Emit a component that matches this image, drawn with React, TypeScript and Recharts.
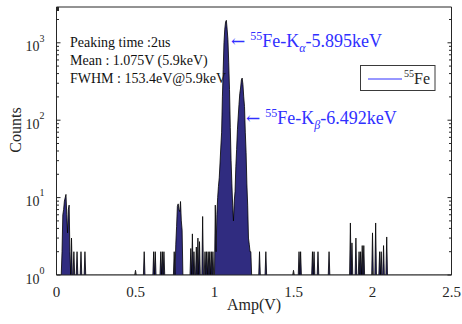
import React from "react";
import { AreaChart, Area, XAxis, YAxis } from "recharts";

const FONT = "'Liberation Serif', 'Times New Roman', serif";
const ARROW_FONT = "'DejaVu Serif', serif";
const AXIS = "#262626";
const FILL = "#302c80";
const BLUE = "#3030ff";

const BIN = 0.005;
const xTicks = [0, 0.5, 1, 1.5, 2, 2.5];
const yMajor = [1, 10, 100, 1000];
const yMinor = [2, 3, 4, 5, 6, 7, 8, 9, 20, 30, 40, 50, 60, 70, 80, 90, 200, 300, 400, 500, 600, 700, 800, 900, 2000];

// scattered non-empty bins (Amp in V)
const hitAmps = [
  0.035, 0.04, 0.045, 0.05, 0.055, 0.06, 0.065, 0.07, 0.075, 0.08, 0.085, 0.095, 0.11, 0.13, 0.155, 0.18,
  0.5, 0.555, 0.615, 0.625, 0.66, 0.67, 0.68,
  0.745, 0.755, 0.76, 0.765, 0.77, 0.775, 0.78, 0.785, 0.79, 0.795,
  0.85, 0.86, 0.87, 0.885, 0.895, 0.905, 0.925, 0.94, 0.95, 0.96, 0.97, 0.98, 0.99, 1.005, 1.01,
  1.285, 1.325, 1.5, 1.535, 1.545, 1.62, 1.63, 1.655, 1.725,
  1.86, 1.87, 1.895, 1.915, 1.925, 1.935, 1.945, 2.0, 2.02, 2.045, 2.055, 2.07, 2.09,
];
const hitCounts = [
  2, 6, 7, 9, 10, 11, 6, 3.5, 7, 8, 2, 3, 2, 2, 2, 2,
  1.15, 2, 2, 2, 2, 2, 2,
  2, 2.5, 4.2, 7.7, 8.3, 7, 6.6, 8.9, 5, 3.8,
  2.2, 3.4, 2, 2.3, 3, 2.7, 5.7, 2, 2, 2, 2, 2, 2, 8, 2,
  2, 2, 1.15, 2, 2, 2, 2, 2, 2,
  4.7, 2.6, 3, 2, 2, 2.4, 2.4, 3.5, 4.7, 2, 2, 2.4, 3.1,
];

// Kα / Kβ peaks, consecutive bins from 1.015 V
const peakStart = 1.015;
const peakCounts = [
  6, 10, 14, 18, 28, 45, 70, 200, 450, 1000, 1500, 1850, 1950, 1500, 1100, 550, 250, 80, 30, 15, 8, 5,
  9, 12, 25, 42, 75, 110, 160, 220, 260, 330, 350, 290, 200, 150, 70, 38, 15, 8, 3, 2.5, 2, 2,
];

// empty bins sit on the log floor (1 count)
const counts: number[] = Array(Math.round(2.5 / BIN) + 1).fill(1);
hitAmps.forEach((a, i) => {
  counts[Math.round(a / BIN)] = hitCounts[i];
});
peakCounts.forEach((c, i) => {
  counts[Math.round(peakStart / BIN) + i] = c;
});
const data = counts.map((count, i) => ({ amp: +(i * BIN).toFixed(3), count }));

const yTicks = [...yMajor, ...yMinor].sort((a, b) => a - b);

const YTick = ({ x, y, payload, side }: any) => {
  const major = yMajor.includes(payload.value);
  const len = major ? 4 : 2.5;
  const dir = side === "left" ? 1 : -1;
  return (
    <g>
      <line x1={x} x2={x + dir * len} y1={y} y2={y} stroke={AXIS} strokeWidth={1} />
      {side === "left" && major && (
        <text x={x - 12} y={y + 8.6} textAnchor="end" fontSize={14} fontFamily={FONT} fill={AXIS}>
          10
          <tspan dy={-9.8} fontSize={10}>
            {Math.round(Math.log10(payload.value))}
          </tspan>
        </text>
      )}
    </g>
  );
};

const XTick = ({ x, y, payload, side }: any) => {
  const dir = side === "bottom" ? -1 : 1;
  return (
    <g>
      <line x1={x} x2={x} y1={y} y2={y + dir * 4} stroke={AXIS} strokeWidth={1} />
      {side === "bottom" && (
        <text x={x} y={y + 21.5} textAnchor="middle" fontSize={15} fontFamily={FONT} fill={AXIS}>
          {payload.value}
        </text>
      )}
    </g>
  );
};

export default function App() {
  return (
    <div style={{ position: "absolute", left: 0, top: 0, width: 462, height: 324, background: "#fff" }}>
      <AreaChart width={462} height={324} data={data} margin={{ top: 6, right: 9.5, bottom: 0, left: 0 }}>
        <XAxis
          dataKey="amp"
          type="number"
          domain={[0, 2.5]}
          ticks={xTicks}
          interval={0}
          height={49}
          tickSize={0}
          tickMargin={0}
          tickLine={false}
          axisLine={{ stroke: AXIS }}
          tick={(p: any) => <XTick {...p} side="bottom" />}
          allowDataOverflow
        />
        <XAxis
          xAxisId="top"
          orientation="top"
          type="number"
          domain={[0, 2.5]}
          ticks={xTicks}
          interval={0}
          height={1}
          tickSize={0}
          tickMargin={0}
          tickLine={false}
          axisLine={{ stroke: AXIS }}
          tick={(p: any) => <XTick {...p} side="top" />}
          allowDataOverflow
        />
        <YAxis
          type="number"
          scale="log"
          domain={[1, 2900]}
          ticks={yTicks}
          interval={0}
          width={56.5}
          tickSize={0}
          tickMargin={0}
          tickLine={false}
          axisLine={{ stroke: AXIS }}
          tick={(p: any) => <YTick {...p} side="left" />}
          allowDataOverflow
        />
        <YAxis
          yAxisId="right"
          orientation="right"
          type="number"
          scale="log"
          domain={[1, 2900]}
          ticks={yTicks}
          interval={0}
          width={1}
          tickSize={0}
          tickMargin={0}
          tickLine={false}
          axisLine={{ stroke: AXIS }}
          tick={(p: any) => <YTick {...p} side="right" />}
          allowDataOverflow
        />
        <Area
          type="linear"
          dataKey="count"
          baseValue={1}
          stroke="#000"
          strokeWidth={0.8}
          fill={FILL}
          fillOpacity={1}
          dot={false}
          activeDot={false}
          isAnimationActive={false}
        />
      </AreaChart>
      <svg
        width={462}
        height={324}
        style={{ position: "absolute", left: 0, top: 0, pointerEvents: "none" }}
        fontFamily={FONT}
      >
        <text transform="translate(20.5,130) rotate(-90)" textAnchor="middle" fontSize={16} fill={AXIS}>
          Counts
        </text>
        <text x={254} y={310} textAnchor="middle" fontSize={16} fill={AXIS}>
          Amp(V)
        </text>
        <g fontSize={14} fill="#111">
          <text x={70} y={46.7}>Peaking time :2us</text>
          <text x={70} y={65}>Mean : 1.075V (5.9keV)</text>
          <text x={70} y={82.7}>FWHM : 153.4eV@5.9keV</text>
        </g>
        <text x={231} y={46.7} fontSize={18} fill={BLUE}>
          <tspan fontFamily={ARROW_FONT} fontSize={17}>{"←"}</tspan>
          <tspan dx={5} fontSize={12} dy={-7}>55</tspan>
          <tspan dy={7}>Fe-K</tspan>
          <tspan fontSize={12} dy={5} fontStyle="italic">α</tspan>
          <tspan dy={-5}>-5.895keV</tspan>
        </text>
        <text x={246} y={124} fontSize={18} fill={BLUE}>
          <tspan fontFamily={ARROW_FONT} fontSize={17}>{"←"}</tspan>
          <tspan dx={5} fontSize={12} dy={-7}>55</tspan>
          <tspan dy={7}>Fe-K</tspan>
          <tspan fontSize={12} dy={5} fontStyle="italic">β</tspan>
          <tspan dy={-5}>-6.492keV</tspan>
        </text>
        <rect x={360.5} y={65.5} width={74.5} height={25} fill="#fff" stroke="#3a3a3a" strokeWidth={1} />
        <line x1={368} x2={402} y1={79} y2={79} stroke={BLUE} strokeWidth={1} />
        <text x={404} y={84} fontSize={16} fill={AXIS}>
          <tspan fontSize={10} dy={-7}>55</tspan>
          <tspan dy={7}>Fe</tspan>
        </text>
      </svg>
    </div>
  );
}
